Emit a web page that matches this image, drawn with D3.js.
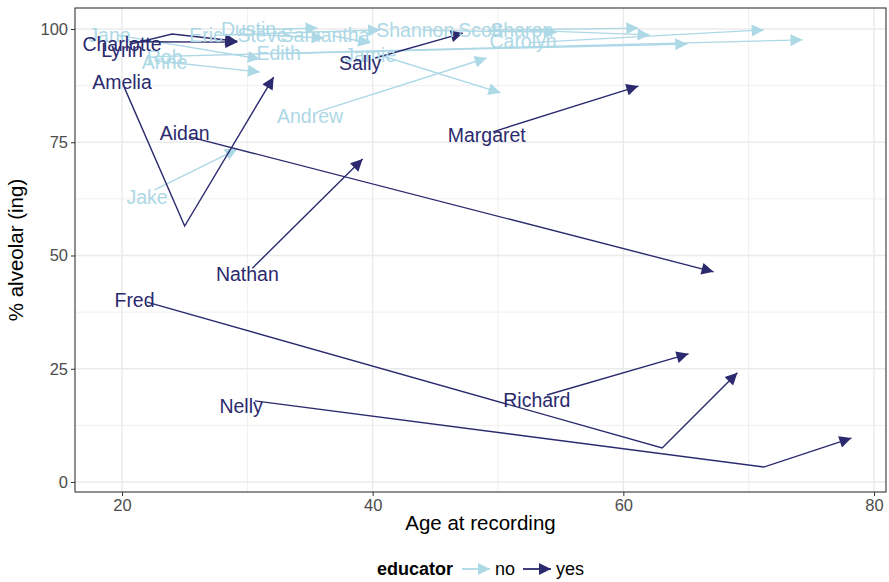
<!DOCTYPE html>
<html><head><meta charset="utf-8">
<script src="https://cdn.jsdelivr.net/npm/d3@7"></script>
<style>body{margin:0;background:#fff}text{font-family:"Liberation Sans",Arial,sans-serif}</style>
</head><body>
<svg id="chart" width="889" height="582"></svg>
<script>
// ---- data ----
const speakers = ["Jane","Rob","Anne","Eric","Steve","Dustin","Samantha","Edith","Shannon","Scott","Sharon","Carolyn","Jamie","Andrew","Jake",
  "Charlotte","Lynn","Amelia","Aidan","Nathan","Sally","Margaret","Fred","Nelly","Richard"];
const educator = ["no","no","no","no","no","no","no","no","no","no","no","no","no","no","no",
  "yes","yes","yes","yes","yes","yes","yes","yes","yes","yes"];
// ages at each recording
const ages = [[19.7,31.0],[22.6,74.3],[22.6,31.0],[27.4,40.6],[31.8,36.1],[30.8,35.6],[36.8,39.8],[33.0,65.1],[44.0,54.7],[49.2,61.2],[52.5,62.1],[52.6,71.2],[40.6,50.2],[35.6,49.1],[22.6,29.2],
  [20.6,29.2],[20.6,24.0,29.2],[20.2,25.0,32.1],[25.4,67.2],[30.4,39.2],[40.2,47.2],[49.6,61.2],[22.0,63.1,69.1],[30.6,71.2,78.2],[53.9,65.2]];
// % alveolar at each recording
const pct = [[98.6,93.4],[93.9,97.6],[93.0,90.5],[98.6,99.8],[98.6,98.0],[99.9,100.2],[98.5,96.9],[94.6,96.7],[99.7,99.3],[99.7,100.2],[99.7,98.7],[97.0,99.8],[94.2,85.9],[81.7,93.6],[64.5,73.5],
  [97.2,97.1],[96.6,98.9,97.3],[87.0,56.5,89.4],[76.2,46.4],[47.2,71.3],[93.6,99.1],[77.3,87.4],[39.7,7.5,24.1],[17.9,3.3,9.7],[19.2,28.3]];
// label anchor (age, %)
const labelAge = [19.0,23.4,23.4,26.7,31.2,30.1,36.2,32.5,43.4,48.6,51.9,52.0,39.8,35.0,22.0,
  20.0,20.0,20.0,25.0,30.0,39.0,49.1,21.0,29.5,53.1];
const labelPct = [98.7,93.8,92.7,98.7,98.7,100.0,98.7,94.7,99.8,99.8,99.8,97.3,94.3,80.8,62.9,
  96.7,95.4,88.3,77.0,45.9,92.5,76.6,40.2,16.8,18.1];
const xTicks = [20,40,60,80];
const yTicks = [0,25,50,75,100];
const xTitle = "Age at recording";
const yTitle = "% alveolar (ing)";
const legendTitle = "educator";
const levels = ["no","yes"];

// ---- drawing ----
const svg = d3.select("#chart");
const P = {l:75, r:886, t:8, b:492};
const x = d3.scaleLinear().domain([20,80]).range([122,874]);
const y = d3.scaleLinear().domain([0,100]).range([482,29]);
x.domain([x.invert(P.l), x.invert(P.r)]).range([P.l,P.r]);
y.domain([y.invert(P.b), y.invert(P.t)]).range([P.b,P.t]);
const color = d3.scaleOrdinal().domain(levels).range(["#add8e6","#2b2a6e"]);

const defs = svg.append("defs");
levels.forEach(l=>{
  defs.append("marker").attr("id","arr-"+l).attr("viewBox","0 0 10 10")
    .attr("refX",10).attr("refY",5).attr("markerWidth",13).attr("markerHeight",12)
    .attr("markerUnits","userSpaceOnUse").attr("orient","auto")
    .append("path").attr("d","M0,0L10,5L0,10Z").attr("fill",color(l));
});

svg.append("rect").attr("x",P.l).attr("y",P.t).attr("width",P.r-P.l).attr("height",P.b-P.t).attr("fill","#fff");
const g = svg.append("g");
// minor grid
const xMinor = [30,50,70], yMinor=[12.5,37.5,62.5,87.5];
g.selectAll(".xm").data(xMinor).join("line").attr("x1",d=>x(d)).attr("x2",d=>x(d)).attr("y1",P.t).attr("y2",P.b).attr("stroke","#ebebeb").attr("stroke-width",0.8);
g.selectAll(".ym").data(yMinor).join("line").attr("y1",d=>y(d)).attr("y2",d=>y(d)).attr("x1",P.l).attr("x2",P.r).attr("stroke","#ebebeb").attr("stroke-width",0.8);
g.selectAll(".xg").data(xTicks).join("line").attr("x1",d=>x(d)).attr("x2",d=>x(d)).attr("y1",P.t).attr("y2",P.b).attr("stroke","#ebebeb").attr("stroke-width",1.5);
g.selectAll(".yg").data(yTicks).join("line").attr("y1",d=>y(d)).attr("y2",d=>y(d)).attr("x1",P.l).attr("x2",P.r).attr("stroke","#ebebeb").attr("stroke-width",1.5);

const rows = speakers.map((s,i)=>({name:s, ed:educator[i], pts:ages[i].map((a,j)=>[a,pct[i][j]]), la:labelAge[i], lp:labelPct[i]}));
const line = d3.line().x(d=>x(d[0])).y(d=>y(d[1]));
const order = rows.filter(r=>r.ed==="no").concat(rows.filter(r=>r.ed==="yes"));
const clip = defs.append("clipPath").attr("id","clip").append("rect").attr("x",P.l).attr("y",P.t).attr("width",P.r-P.l).attr("height",P.b-P.t);
const plot = svg.append("g").attr("clip-path","url(#clip)");
plot.selectAll("path.sp").data(order).join("path").attr("class","sp")
  .attr("d",d=>line(d.pts)).attr("fill","none").attr("stroke",d=>color(d.ed)).attr("stroke-width",1.4)
  .attr("marker-end",d=>`url(#arr-${d.ed})`);
plot.selectAll("text.lab").data(order).join("text").attr("class","lab")
  .attr("x",d=>x(d.la)).attr("y",d=>y(d.lp)).attr("text-anchor","middle").attr("dy","0.35em")
  .attr("fill",d=>color(d.ed)).attr("font-size",19.5).text(d=>d.name);

svg.append("rect").attr("x",P.l).attr("y",P.t).attr("width",P.r-P.l).attr("height",P.b-P.t).attr("fill","none").attr("stroke","#333").attr("stroke-width",1.1);

const xa = svg.append("g").attr("transform",`translate(0,${P.b})`).call(d3.axisBottom(x).tickValues(xTicks).tickSize(4).tickPadding(3));
const ya = svg.append("g").attr("transform",`translate(${P.l},0)`).call(d3.axisLeft(y).tickValues(yTicks).tickSize(4).tickPadding(3));
[xa,ya].forEach(a=>{a.select(".domain").remove();a.selectAll("line").attr("stroke","#333");a.selectAll("text").attr("fill","#4d4d4d").attr("font-size",16.5).attr("font-family","Liberation Sans, Arial, sans-serif");});

svg.append("text").attr("x",(P.l+P.r)/2).attr("y",530).attr("text-anchor","middle").attr("font-size",20.5).attr("fill","#000").text(xTitle);
svg.append("text").attr("transform",`translate(23,${(P.t+P.b)/2}) rotate(-90)`).attr("text-anchor","middle").attr("font-size",20.5).attr("fill","#000").text(yTitle);

// legend
const lg = svg.append("g").attr("transform","translate(377,569)");
lg.append("text").attr("x",0).attr("y",0).attr("dy","0.35em").attr("font-weight","bold").attr("font-size",18).text(legendTitle);
const keyX = [85,146];
levels.forEach((l,i)=>{
  lg.append("line").attr("x1",keyX[i]).attr("x2",keyX[i]+28).attr("y1",0).attr("y2",0).attr("stroke",color(l)).attr("stroke-width",1.8).attr("marker-end",`url(#arr-${l})`);
  lg.append("text").attr("x",keyX[i]+33).attr("y",0).attr("dy","0.35em").attr("font-size",18).text(l);
});
</script>
</body></html>
